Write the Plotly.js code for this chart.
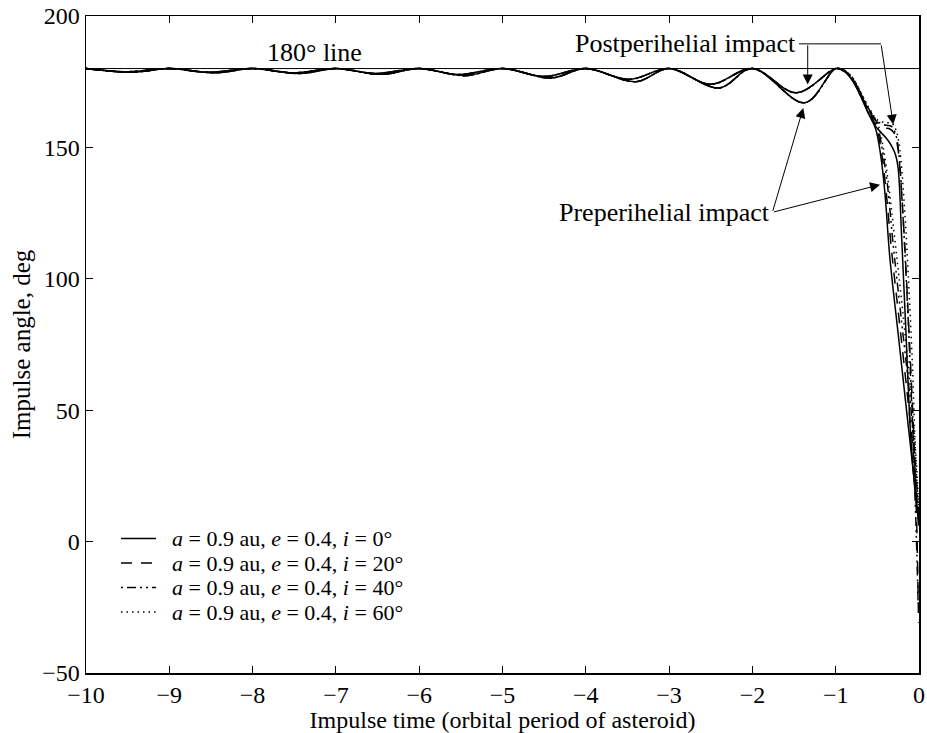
<!DOCTYPE html>
<html>
<head>
<meta charset="utf-8">
<script src="https://cdn.plot.ly/plotly-3.0.1.min.js"></script>
<style>
  html, body { margin: 0; padding: 0; background: #fff; }
  #chart { width: 927px; height: 733px; }
</style>
</head>
<body>
<div id="chart"></div>
<script>
// Impulse angle vs. impulse time for a = 0.9 au, e = 0.4 at four inclinations.
// Each inclination has a preperihelial and a postperihelial impact curve.

const seriesNames = [
  '<i>a</i> = 0.9 au, <i>e</i> = 0.4, <i>i</i> = 0°',
  '<i>a</i> = 0.9 au, <i>e</i> = 0.4, <i>i</i> = 20°',
  '<i>a</i> = 0.9 au, <i>e</i> = 0.4, <i>i</i> = 40°',
  '<i>a</i> = 0.9 au, <i>e</i> = 0.4, <i>i</i> = 60°'
];

// Oscillating part (peaks at whole orbital periods), shared by all inclinations
const preOscX  = [-10, -9.45, -9, -8.45, -8, -7.43, -7, -6.45, -6, -5.45, -5, -4.42, -4, -3.4, -3, -2.4, -2, -1.37];
const preOscY  = [180, 178.6, 180, 178.4, 180, 178.1, 180, 177.8, 180, 177.3, 180, 176.4, 180, 175.0, 180, 172.6, 180, 167.0];
const postOscX = [-10, -9.53, -9, -8.53, -8, -7.52, -7, -6.53, -6, -5.53, -5, -4.5, -4, -3.48, -3, -2.5, -2, -1.47];
const postOscY = [180, 178.8, 180, 178.6, 180, 178.4, 180, 178.1, 180, 177.7, 180, 177.0, 180, 175.9, 180, 174.0, 180, 170.8];

// Final orbital period, preperihelial impact (i = 0, 20, 40, 60 deg)
const preTail0X = [-1, -0.9, -0.8, -0.7, -0.6, -0.52, -0.46, -0.41, -0.35, -0.25, -0.15, -0.08, -0.03, 0];
const preTail0Y = [180, 179, 175.5, 169.5, 162.5, 157, 147, 133, 108, 79, 50, 30, 15, 7];
const preTail1X = [-1, -0.9, -0.8, -0.7, -0.6, -0.51, -0.45, -0.4, -0.33, -0.23, -0.13, -0.06, -0.02, 0];
const preTail1Y = [180, 179.2, 176, 170, 163.5, 157.5, 148, 135, 111, 82, 53, 31, 14, 4];
const preTail2X = [-1, -0.9, -0.8, -0.7, -0.6, -0.5, -0.44, -0.38, -0.31, -0.21, -0.11, -0.05, -0.015, 0];
const preTail2Y = [180, 179.3, 176.3, 170.5, 164, 158, 149, 136, 113, 84, 55, 32, 16, 9];
const preTail3X = [-1, -0.9, -0.8, -0.7, -0.6, -0.49, -0.43, -0.37, -0.29, -0.19, -0.1, -0.04, -0.01, 0];
const preTail3Y = [180, 179.4, 176.6, 171, 164.5, 158.5, 150, 137, 115, 86, 57, 34, 18, 12];

// Final orbital period, postperihelial impact (i = 0, 20, 40, 60 deg)
const postTail0X = [-1, -0.9, -0.8, -0.7, -0.6, -0.52, -0.45, -0.38, -0.32, -0.28, -0.25, -0.21, -0.16, -0.1, -0.05, -0.02, 0];
const postTail0Y = [180, 179, 175.5, 169.5, 162.5, 158, 155.5, 153, 150, 147, 142, 117, 82, 40, 20, 12, 6];
const postTail1X = [-1, -0.9, -0.8, -0.7, -0.6, -0.5, -0.42, -0.35, -0.3, -0.26, -0.22, -0.17, -0.12, -0.07, -0.03, -0.005];
const postTail1Y = [180, 179.2, 176, 170, 164, 159.5, 157.5, 157, 155.5, 151, 138, 112, 80, 45, 10, -31];
const postTail2X = [-1, -0.9, -0.8, -0.7, -0.6, -0.5, -0.41, -0.33, -0.28, -0.24, -0.2, -0.15, -0.1, -0.06, -0.03, -0.01];
const postTail2Y = [180, 179.3, 176.3, 170.5, 164.5, 160, 158.5, 158, 155, 147, 128, 98, 62, 28, 0, -24];
const postTail3X = [-1, -0.9, -0.8, -0.7, -0.6, -0.5, -0.4, -0.32, -0.27, -0.23, -0.18, -0.13, -0.08, -0.04, 0];
const postTail3Y = [180, 179.4, 176.6, 171, 165, 160.5, 159.5, 159, 156, 149, 130, 102, 68, 32, 10];

const xTicks = [-10, -9, -8, -7, -6, -5, -4, -3, -2, -1, 0];
const yTicks = [-50, 0, 50, 100, 150, 200];

const preTails  = [[preTail0X, preTail0Y], [preTail1X, preTail1Y], [preTail2X, preTail2Y], [preTail3X, preTail3Y]];
const postTails = [[postTail0X, postTail0Y], [postTail1X, postTail1Y], [postTail2X, postTail2Y], [postTail3X, postTail3Y]];
const dashes = ['solid', '11px,9px', '2px,4px,9px,4px,2px,4px', '1.5px,4px'];

const FONT = 'Liberation Serif, Times New Roman, serif';
const W = 927, H = 733;
const M = { l: 86, r: 8, t: 16, b: 60 };
const plotW = W - M.l - M.r, plotH = H - M.t - M.b;
const px2paperX = p => (p - M.l) / plotW;
const px2paperY = p => 1 - (p - M.t) / plotH;

function joinTail(oscX, oscY, tail) {
  // the tail starts at the -1 peak, right after the last trough
  return { x: oscX.concat(tail[0]), y: oscY.concat(tail[1]) };
}

const traces = [];
for (let k = 0; k < 4; k++) {
  const pre = joinTail(preOscX, preOscY, preTails[k]);
  const post = joinTail(postOscX, postOscY, postTails[k]);
  const line = { color: '#000', width: 1.5, dash: dashes[k], shape: 'spline', smoothing: 1 };
  traces.push({ x: pre.x, y: pre.y, type: 'scatter', mode: 'lines', name: seriesNames[k], legendgroup: 'g' + k, line });
  traces.push({ x: post.x, y: post.y, type: 'scatter', mode: 'lines', name: seriesNames[k], legendgroup: 'g' + k, line });
}

const arrowStyle = { showarrow: true, arrowhead: 2, arrowsize: 2, arrowwidth: 1, arrowcolor: '#000',
                     axref: 'x', ayref: 'y', xref: 'x', yref: 'y', text: '' };

// Compact key in the lower-left corner: a line sample and a label per inclination
const keyRowsPx = [538.5, 563, 587.5, 612];
const keyShapes = [], keyLabels = [];
keyRowsPx.forEach((py, k) => {
  keyShapes.push({ type: 'line', xref: 'paper', yref: 'paper',
    x0: px2paperX(121), x1: px2paperX(156), y0: px2paperY(py), y1: px2paperY(py),
    line: { color: '#000', width: 1.3, dash: dashes[k] } });
  keyLabels.push({ text: seriesNames[k], xref: 'paper', yref: 'paper',
    x: px2paperX(170), y: px2paperY(py), xanchor: 'left', yanchor: 'middle', showarrow: false,
    font: { family: FONT, size: 22, color: '#000' } });
});

const layout = {
  width: W, height: H,
  margin: M,
  paper_bgcolor: '#fff', plot_bgcolor: '#fff',
  font: { family: FONT, color: '#000', size: 24 },
  showlegend: false,
  xaxis: {
    range: [-10, 0], tickvals: xTicks, ticks: 'inside', ticklen: 7, tickwidth: 1,
    tickcolor: '#000', mirror: 'ticks', showline: true, linecolor: '#000', linewidth: 1.5,
    showgrid: false, zeroline: false,
    tickfont: { family: FONT, size: 24, color: '#000' },
    title: { text: 'Impulse time (orbital period of asteroid)', font: { family: FONT, size: 24, color: '#000' }, standoff: 4 }
  },
  yaxis: {
    range: [-50, 200], tickvals: yTicks, ticks: 'inside', ticklen: 7, tickwidth: 1,
    tickcolor: '#000', mirror: 'ticks', showline: true, linecolor: '#000', linewidth: 1.5,
    showgrid: false, zeroline: false,
    tickfont: { family: FONT, size: 24, color: '#000' },
    title: { text: 'Impulse angle, deg', font: { family: FONT, size: 25, color: '#000' }, standoff: 4 }
  },
  shapes: [
    // 180 degree reference line
    { type: 'line', xref: 'x', yref: 'y', x0: -10, x1: 0, y0: 180, y1: 180, line: { color: '#000', width: 1 } },
    // leader from the postperihelial label
    { type: 'line', xref: 'x', yref: 'y', x0: -1.44, x1: -0.456, y0: 189.4, y1: 189.4, line: { color: '#000', width: 1 } }
  ].concat(keyShapes),
  annotations: [
    { text: '180° line', x: -7.255, y: 186.2, xref: 'x', yref: 'y', showarrow: false,
      font: { family: FONT, size: 26, color: '#000' } },
    { text: 'Postperihelial impact', x: -1.45, y: 189.6, xref: 'x', yref: 'y', xanchor: 'right', showarrow: false,
      font: { family: FONT, size: 26, color: '#000' } },
    { text: 'Preperihelial impact', x: -1.77, y: 125.3, xref: 'x', yref: 'y', xanchor: 'right', showarrow: false,
      font: { family: FONT, size: 26, color: '#000' } },
    Object.assign({}, arrowStyle, { x: -1.336, y: 173.9, ax: -1.336, ay: 189.4 }),
    Object.assign({}, arrowStyle, { x: -0.309, y: 158.7, ax: -0.456, ay: 189.4 }),
    Object.assign({}, arrowStyle, { x: -1.389, y: 165.0, ax: -1.76, ay: 125.3 }),
    Object.assign({}, arrowStyle, { x: -0.468, y: 135.8, ax: -1.76, ay: 125.3 })
  ].concat(keyLabels)
};

Plotly.newPlot('chart', traces, layout, { staticPlot: true, displayModeBar: false });
</script>
</body>
</html>
